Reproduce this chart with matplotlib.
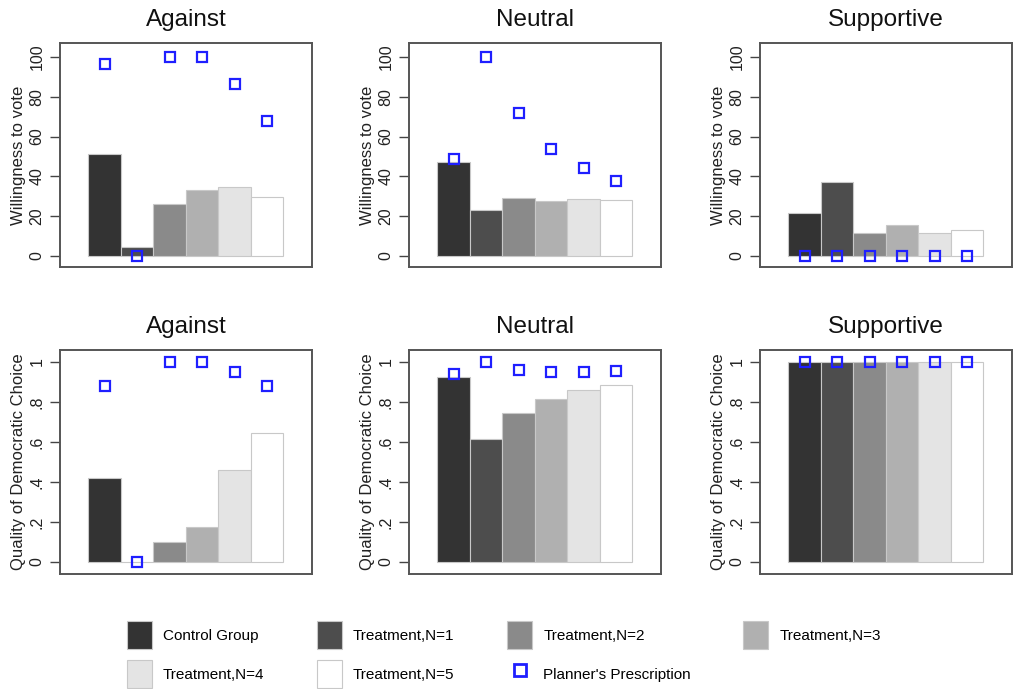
import matplotlib
matplotlib.use('Agg')
from matplotlib import pyplot as plt
from matplotlib.patches import Patch
from matplotlib.lines import Line2D
import numpy as np

plt.rcParams['font.family'] = ['Liberation Sans', 'DejaVu Sans']

groups = ['Control Group', 'Treatment,N=1', 'Treatment,N=2',
          'Treatment,N=3', 'Treatment,N=4', 'Treatment,N=5']
panel_titles = ['Against', 'Neutral', 'Supportive']

# willingness to vote (top row)
vote_against = [51.5, 4.7, 26.0, 33.3, 34.8, 29.6]
vote_neutral = [47.2, 23.1, 29.1, 27.8, 28.9, 28.4]
vote_supportive = [21.7, 37.1, 11.7, 15.7, 11.7, 13.0]
vote_planner_against = [96.3, 0, 100, 100, 86.6, 67.6]
vote_planner_neutral = [48.5, 100, 71.6, 53.8, 44.1, 37.8]
vote_planner_supportive = [0, 0, 0, 0, 0, 0]

# quality of democratic choice (bottom row)
qual_against = [0.421, 0.0, 0.102, 0.176, 0.462, 0.645]
qual_neutral = [0.923, 0.614, 0.747, 0.816, 0.861, 0.885]
qual_supportive = [1.0, 1.0, 1.0, 1.0, 1.0, 1.0]
qual_planner_against = [0.88, 0.0, 1.0, 1.0, 0.951, 0.88]
qual_planner_neutral = [0.938, 1.0, 0.96, 0.951, 0.951, 0.955]
qual_planner_supportive = [1.0, 1.0, 1.0, 1.0, 1.0, 1.0]

vote_ticks = [0, 20, 40, 60, 80, 100]
vote_ticklabels = ['0', '20', '40', '60', '80', '100']
qual_ticks = [0, 0.2, 0.4, 0.6, 0.8, 1.0]
qual_ticklabels = ['0', '.2', '.4', '.6', '.8', '1']

bar_colors = ['#333333', '#4d4d4d', '#8a8a8a', '#b0b0b0', '#e4e4e4', '#ffffff']
edge = '#c8c8c8'
blue = '#1f1fff'

W, H = 1014, 689
fig = plt.figure(figsize=(W / 100, H / 100), dpi=100)

lefts = [60, 409, 760]
rows = [
    dict(top=43, bars=[vote_against, vote_neutral, vote_supportive],
         pts=[vote_planner_against, vote_planner_neutral, vote_planner_supportive],
         ylim=(-5.5, 107), ticks=vote_ticks, labels=vote_ticklabels,
         ylabel='Willingness to vote'),
    dict(top=350, bars=[qual_against, qual_neutral, qual_supportive],
         pts=[qual_planner_against, qual_planner_neutral, qual_planner_supportive],
         ylim=(-0.06, 1.06), ticks=qual_ticks, labels=qual_ticklabels,
         ylabel='Quality of Democratic Choice'),
]

x = np.arange(len(groups))
for row in rows:
    for i, left in enumerate(lefts):
        ax = fig.add_axes([left / W, 1 - (row['top'] + 224) / H, 252 / W, 224 / H])
        ax.bar(x, row['bars'][i], width=1, align='edge', color=bar_colors,
               edgecolor=edge, linewidth=0.8, zorder=2)
        ax.plot(x + 0.5, row['pts'][i], linestyle='none', marker='s', markersize=7.3,
                markerfacecolor='none', markeredgecolor=blue, markeredgewidth=1.6,
                zorder=3, clip_on=False)
        ax.set_xlim(-0.87, 6.88)
        ax.set_ylim(*row['ylim'])
        ax.set_xticks([])
        ax.set_yticks(row['ticks'])
        ax.set_yticklabels(row['labels'], rotation=90, va='center')
        ax.tick_params(axis='y', length=7, width=1, color='#444444', labelsize=11.5,
                       pad=4, labelcolor='#222222')
        for s in ax.spines.values():
            s.set_color('#555555')
            s.set_linewidth(1.4)
        ax.set_title(panel_titles[i], fontsize=17.5, pad=12, color='#111111')
        ax.set_ylabel(row['ylabel'], fontsize=12, labelpad=3, color='#222222')

handles = [Patch(facecolor=c, edgecolor=edge, linewidth=0.8) for c in bar_colors]
planner = Line2D([], [], linestyle='none', marker='s', markersize=8.5,
                 markerfacecolor='none', markeredgecolor=blue, markeredgewidth=2)
order_h = [handles[0], handles[4], handles[1], handles[5], handles[2], planner, handles[3]]
order_l = [groups[0], groups[4], groups[1], groups[5], groups[2],
           "Planner's Prescription", groups[3]]
fig.legend(order_h, order_l, ncol=4, loc='upper left',
           bbox_to_anchor=(127 / W, 1 - 621 / H), frameon=False,
           fontsize=11, handlelength=1.63, handleheight=2.45, handletextpad=0.72,
           columnspacing=3.45, labelspacing=0.74, borderpad=0, borderaxespad=0)

fig.savefig('out.png', dpi=100)
